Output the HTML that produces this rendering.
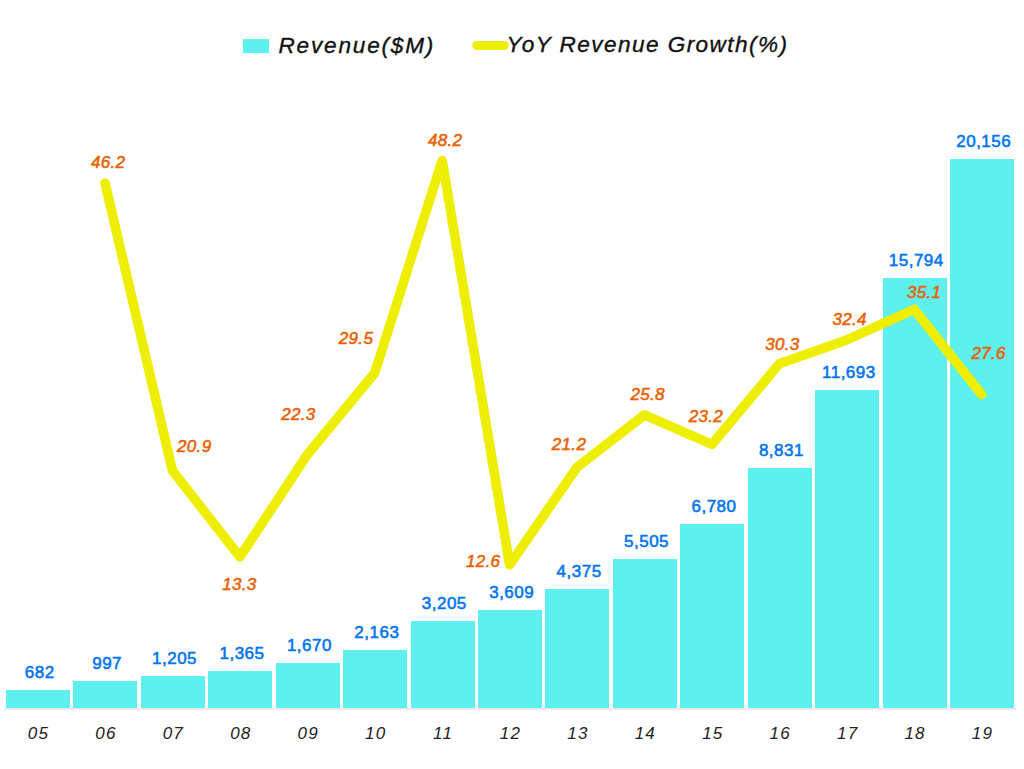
<!DOCTYPE html>
<html><head><meta charset="utf-8"><style>
html,body{margin:0;padding:0;background:#fff;width:1024px;height:769px;overflow:hidden}
svg{position:absolute;left:0;top:0;display:block}
text{font-family:"Liberation Sans", sans-serif}
.v{font-size:17px;font-weight:normal;fill:#0074F2;stroke:#0074F2;stroke-width:0.55px;text-anchor:middle;letter-spacing:0.5px}
.g{font-size:17px;font-weight:normal;font-style:italic;fill:#EC6000;stroke:#EC6000;stroke-width:0.55px;text-anchor:middle;letter-spacing:0.3px}
.c{font-size:17px;font-style:italic;fill:#222;text-anchor:middle;letter-spacing:1.2px}
.l{font-size:22.6px;font-style:italic;fill:#111;stroke:#111;stroke-width:0.35px}
</style></head><body>
<svg width="1024" height="769" viewBox="0 0 1024 769">
<rect x="6" y="690" width="64" height="18" fill="#5EF0EE"/>
<rect x="73" y="681" width="64" height="27" fill="#5EF0EE"/>
<rect x="141" y="676" width="64" height="32" fill="#5EF0EE"/>
<rect x="208" y="671" width="64" height="37" fill="#5EF0EE"/>
<rect x="276" y="663" width="64" height="45" fill="#5EF0EE"/>
<rect x="343" y="650" width="64" height="58" fill="#5EF0EE"/>
<rect x="411" y="621" width="64" height="87" fill="#5EF0EE"/>
<rect x="478" y="610" width="64" height="98" fill="#5EF0EE"/>
<rect x="545" y="589" width="64" height="119" fill="#5EF0EE"/>
<rect x="613" y="559" width="64" height="149" fill="#5EF0EE"/>
<rect x="680" y="524" width="64" height="184" fill="#5EF0EE"/>
<rect x="748" y="468" width="64" height="240" fill="#5EF0EE"/>
<rect x="815" y="390" width="64" height="318" fill="#5EF0EE"/>
<rect x="883" y="278" width="64" height="430" fill="#5EF0EE"/>
<rect x="950" y="159" width="64" height="549" fill="#5EF0EE"/>
<rect x="4" y="708" width="1012" height="2" fill="#EAEAEE"/>
<polyline points="105.03,183.17 172.46,470.58 239.89,556.91 307.32,454.67 374.75,372.88 442.18,160.45 509.61,564.86 577.04,467.17 644.47,414.91 711.90,444.45 779.33,363.79 846.76,339.94 914.19,309.26 981.62,394.46" fill="none" stroke="#EEEE00" stroke-width="9.6" stroke-linejoin="round" stroke-linecap="round"/>
<text x="39.70" y="678.00" class="v">682</text>
<text x="107.13" y="669.00" class="v">997</text>
<text x="174.56" y="664.00" class="v">1,205</text>
<text x="241.99" y="659.00" class="v">1,365</text>
<text x="309.42" y="651.00" class="v">1,670</text>
<text x="376.85" y="638.00" class="v">2,163</text>
<text x="444.28" y="609.00" class="v">3,205</text>
<text x="511.71" y="598.00" class="v">3,609</text>
<text x="579.14" y="577.00" class="v">4,375</text>
<text x="646.57" y="547.00" class="v">5,505</text>
<text x="714.00" y="512.00" class="v">6,780</text>
<text x="781.43" y="456.00" class="v">8,831</text>
<text x="848.86" y="378.00" class="v">11,693</text>
<text x="916.29" y="266.00" class="v">15,794</text>
<text x="983.72" y="147.00" class="v">20,156</text>
<text x="108.05" y="168.00" class="g">46.2</text>
<text x="194.25" y="452.10" class="g">20.9</text>
<text x="239.35" y="589.90" class="g">13.3</text>
<text x="298.40" y="419.70" class="g">22.3</text>
<text x="356.00" y="344.00" class="g">29.5</text>
<text x="445.05" y="146.00" class="g">48.2</text>
<text x="483.05" y="567.00" class="g">12.6</text>
<text x="569.00" y="450.00" class="g">21.2</text>
<text x="647.60" y="400.30" class="g">25.8</text>
<text x="705.90" y="422.30" class="g">23.2</text>
<text x="782.40" y="350.40" class="g">30.3</text>
<text x="849.60" y="324.60" class="g">32.4</text>
<text x="924.20" y="297.70" class="g">35.1</text>
<text x="988.70" y="359.30" class="g">27.6</text>
<text x="38.50" y="738.80" class="c">05</text>
<text x="105.93" y="738.80" class="c">06</text>
<text x="173.36" y="738.80" class="c">07</text>
<text x="240.79" y="738.80" class="c">08</text>
<text x="308.22" y="738.80" class="c">09</text>
<text x="375.65" y="738.80" class="c">10</text>
<text x="443.08" y="738.80" class="c">11</text>
<text x="510.51" y="738.80" class="c">12</text>
<text x="577.94" y="738.80" class="c">13</text>
<text x="645.37" y="738.80" class="c">14</text>
<text x="712.80" y="738.80" class="c">15</text>
<text x="780.23" y="738.80" class="c">16</text>
<text x="847.66" y="738.80" class="c">17</text>
<text x="915.09" y="738.80" class="c">18</text>
<text x="982.52" y="738.80" class="c">19</text>
<rect x="243" y="39" width="26" height="14" fill="#5EF0EE"/>
<text x="278.50" y="52.70" class="l" letter-spacing="1.8">Revenue($M)</text>
<line x1="476.8" y1="45.5" x2="504.2" y2="45.5" stroke="#EEEE00" stroke-width="9" stroke-linecap="round"/>
<text x="506.60" y="52.30" class="l" letter-spacing="1.42">YoY Revenue Growth(%)</text>
</svg>
</body></html>
